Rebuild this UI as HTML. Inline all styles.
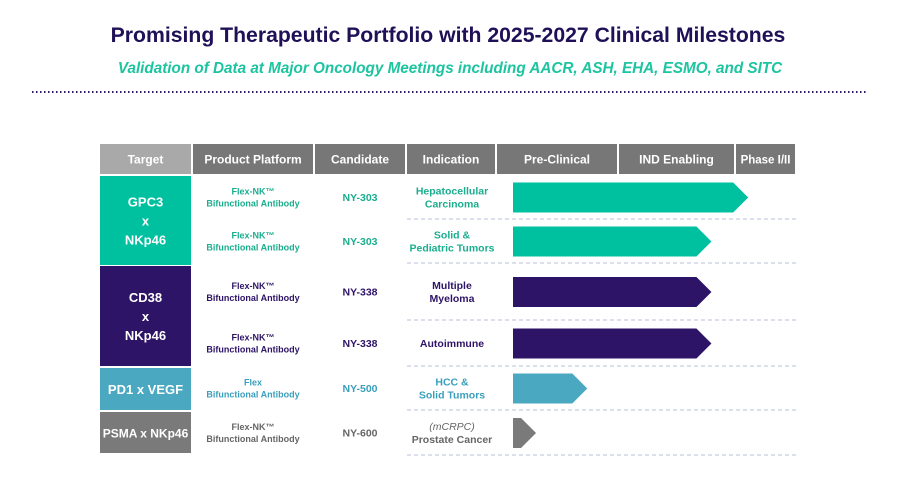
<!DOCTYPE html>
<html><head><meta charset="utf-8"><style>
body{margin:0;background:#fff;width:900px;height:472px;overflow:hidden;font-family:"Liberation Sans",sans-serif}
svg text{font-family:"Liberation Sans",sans-serif}
</style></head><body>
<svg id="c" width="900" height="472" xmlns="http://www.w3.org/2000/svg">
<text x="448" y="42" text-anchor="middle" font-size="21.2" font-weight="bold" fill="#1f1057">Promising Therapeutic Portfolio with 2025-2027 Clinical Milestones</text>
<text x="450" y="73" text-anchor="middle" font-size="15.25" font-weight="bold" font-style="italic" fill="#1cc4a0">Validation of Data at Major Oncology Meetings including AACR, ASH, EHA, ESMO, and SITC</text>
<line x1="32" y1="92" x2="868" y2="92" stroke="#2e1a6b" stroke-width="2" stroke-dasharray="1.5,2.5"/>
<g id="hdr"></g><g id="body"></g>
</svg>
<script>
const headers=["Target","Product Platform","Candidate","Indication","Pre-Clinical","IND Enabling","Phase I/II"];
const platforms=[["Flex-NK™","Bifunctional Antibody"],["Flex-NK™","Bifunctional Antibody"],["Flex-NK™","Bifunctional Antibody"],["Flex-NK™","Bifunctional Antibody"],["Flex","Bifunctional Antibody"],["Flex-NK™","Bifunctional Antibody"]];
const candidates=["NY-303","NY-303","NY-338","NY-338","NY-500","NY-600"];
const indications=[["Hepatocellular","Carcinoma"],["Solid &","Pediatric Tumors"],["Multiple","Myeloma"],["Autoimmune"],["HCC &","Solid Tumors"],["(mCRPC)","Prostate Cancer"]];
const progress=[2.2,1.79,1.79,1.79,0.74,0.32];
const groups=[["GPC3","x","NKp46"],["CD38","x","NKp46"],["PD1 x VEGF"],["PSMA x NKp46"]];

const NS="http://www.w3.org/2000/svg";
const svg=document.getElementById('c'),H=document.getElementById('hdr'),B=document.getElementById('body');
function mk(p,t,a){const e=document.createElementNS(NS,t);for(const k in a)e.setAttribute(k,a[k]);p.appendChild(e);return e;}
const colX=[100,193,315,407,497,619,736,797];
const stageEdges=[497,619,736,797];
function xs(v){const i=Math.min(Math.floor(v),2);return stageEdges[i]+(v-i)*(stageEdges[i+1]-stageEdges[i]);}
const rowTop=[176,220,264,321,367,411],rowBot=[219,263,320,366,410,455];
const rowGroup=[0,0,1,1,2,3];
const groupSpan=[[176,265],[266,366],[368,410],[412,453]];
const gColor=["#00c19f","#2e1467","#4aa8c0","#7a7a7a"];
const tColor=["#1aae8e","#1aae8e","#2e1467","#2e1467","#3a9fbc","#666"];
for(let i=0;i<headers.length;i++){
  const r=mk(H,'rect',{x:colX[i],y:144,width:colX[i+1]-colX[i]-2,height:30,fill:i==0?'#a9a9a9':'#777'});
  
  
  const t=mk(H,'text',{x:(colX[i]+colX[i+1]-2)/2,y:163.5,'text-anchor':'middle','font-size':i==6?11.5:12,'font-weight':'bold',fill:'#fff'});
  t.textContent=headers[i];
  
  
}
groups.forEach((g,i)=>{
  const [y0,y1]=groupSpan[i];
  const r=mk(B,'rect',{x:100,y:y0,width:91,height:y1-y0,fill:gColor[i]});
  
  
  const lh=19,cy=(y0+y1)/2-(g.length-1)*lh/2+5;
  g.forEach((s,j)=>{const t=mk(B,'text',{x:145.5,y:cy+j*lh,'text-anchor':'middle','font-size':s.length>10?12:13,'font-weight':'bold',fill:'#fff'});t.textContent=s;
  
  });
});
function lines(arr,x,cy,fs,col,lh,it){const n=arr.length;arr.forEach((s,j)=>{const t=mk(B,'text',{x:x,y:cy-(n-1)*lh/2+j*lh+fs*0.35,'text-anchor':'middle','font-size':fs,'font-weight':(it&&j==0)?'normal':'bold','font-style':(it&&j==0)?'italic':'normal',fill:col});t.textContent=s;

});}
for(let i=0;i<6;i++){
  const cy=(rowTop[i]+rowBot[i])/2;
  lines(platforms[i],253,cy,9,tColor[i],12);
  lines([candidates[i]],360,cy,10.5,tColor[i],12);
  lines(indications[i],452,cy,10.5,tColor[i],13,i==5);
  const l=mk(B,'line',{x1:407,x2:797,y1:rowBot[i],y2:rowBot[i],stroke:'#b8c0d4','stroke-width':1,'stroke-dasharray':'4,3'});
  
  
  const x0=513,xe=xs(progress[i]),tip=15,h=30,yt=cy-h/2;
  const p=mk(B,'polygon',{points:`${x0},${yt} ${xe-tip},${yt} ${xe},${cy} ${xe-tip},${yt+h} ${x0},${yt+h}`,fill:gColor[rowGroup[i]]});
  
  
}
</script>
</body></html>
